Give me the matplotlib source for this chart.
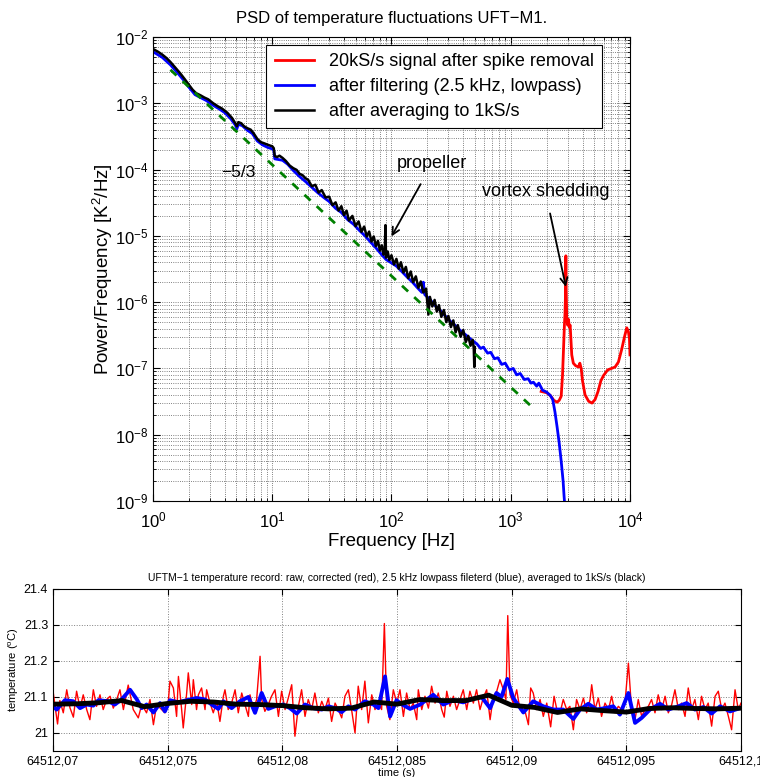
import matplotlib
matplotlib.use("Agg")
import matplotlib.pyplot as plt
from matplotlib.ticker import LogLocator, NullFormatter
import numpy as np

plt.rcParams['font.family'] = ['Liberation Sans', 'DejaVu Sans']
plt.rcParams['mathtext.default'] = 'regular'

# ---- PSD data ----
red_f = [1800, 2000, 2150, 2300, 2450, 2550, 2650, 2720, 2770, 2820, 2850, 2880, 2900,
         2920, 2950, 3000, 3050, 3100, 3150, 3250, 3350, 3500, 3700, 3800, 3900, 4000,
         4200, 4500, 4800, 5100, 5400, 5700, 6000, 6500, 7000, 7500, 8000, 8500, 9000,
         9400, 9700, 9900, 10000]
red_p = [4.5e-8, 4.3e-8, 3.9e-8, 3.3e-8, 3.1e-8, 3.3e-8, 3.8e-8, 8e-8, 1.9e-7, 4.5e-7,
         6.5e-7, 1.3e-6, 5.0e-6, 1.5e-6, 6e-7, 4.5e-7, 5.5e-7, 4.2e-7, 4.5e-7, 1.6e-7,
         1.2e-7, 1.1e-7, 1.05e-7, 1.2e-7, 1.0e-7, 6.5e-8, 4.0e-8, 3.2e-8, 3.0e-8, 3.4e-8,
         4.5e-8, 6.5e-8, 7.8e-8, 9.5e-8, 1.0e-7, 1.05e-7, 1.25e-7, 1.9e-7, 3.0e-7, 4.1e-7,
         3.6e-7, 2.8e-7, 1.6e-7]

blue_f = [1.0, 1.2, 1.4, 1.6, 1.8, 2.0, 2.25, 2.5, 2.8, 3.2, 3.6, 4.0, 4.5, 4.9, 5.05,
          5.2, 5.6, 6.2, 6.8, 7.5, 8.3, 9.2, 10.0, 10.3, 10.5, 11.2, 12.2, 13.5, 15, 17,
          19, 21, 24, 27, 30, 34, 38, 43, 48, 54, 60, 67, 74, 82, 90, 100, 110, 122, 135,
          150, 165, 180, 185, 190, 210, 230, 255, 280, 310, 345, 380, 420, 470, 520, 560,
          590, 640, 680, 730, 780, 840, 900, 970, 1050, 1120, 1200, 1300, 1400, 1480,
          1550, 1650, 1720, 1850, 2000, 2150, 2250, 2350, 2450, 2550, 2650, 2750, 2800,
          2850]
blue_p = [6.0e-3, 4.9e-3, 3.8e-3, 2.9e-3, 2.25e-3, 1.75e-3, 1.35e-3, 1.22e-3, 1.1e-3,
          9.3e-4, 8.2e-4, 7.2e-4, 5.8e-4, 4.7e-4, 4.1e-4, 4.8e-4, 4.6e-4, 3.9e-4, 3.5e-4,
          2.7e-4, 2.35e-4, 2.15e-4, 2.05e-4, 1.95e-4, 1.45e-4, 1.42e-4, 1.38e-4, 1.2e-4,
          9.7e-5, 7.8e-5, 6.6e-5, 5.6e-5, 4.5e-5, 3.8e-5, 3.3e-5, 2.6e-5, 2.25e-5,
          1.75e-5, 1.5e-5, 1.2e-5, 1.0e-5, 8.0e-6, 6.6e-6, 5.3e-6, 4.4e-6, 3.9e-6, 3.5e-6,
          2.9e-6, 2.4e-6, 2.0e-6, 1.65e-6, 1.4e-6, 2.0e-6, 1.3e-6, 1.1e-6, 9.0e-7, 7.6e-7,
          6.3e-7, 5.2e-7, 4.4e-7, 3.7e-7, 3.2e-7, 2.7e-7, 2.35e-7, 2.0e-7, 2.1e-7, 1.7e-7,
          1.75e-7, 1.4e-7, 1.45e-7, 1.15e-7, 1.2e-7, 9.5e-8, 1.0e-7, 8.0e-8, 8.4e-8,
          6.8e-8, 7.0e-8, 6.0e-8, 6.2e-8, 5.4e-8, 6.0e-8, 4.7e-8, 4.4e-8, 3.9e-8, 3.4e-8,
          2.2e-8, 1.3e-8, 7.5e-9, 4.0e-9, 2.0e-9, 1.2e-9, 8e-10]

black_f = [1.0, 1.1, 1.2, 1.3, 1.4, 1.55, 1.7, 1.85, 2.0, 2.15, 2.3, 2.5, 2.7, 2.9, 3.2,
           3.5, 3.8, 4.2, 4.6, 4.9, 5.05, 5.2, 5.5, 5.8, 6.2, 6.6, 7.0, 7.5, 8.0, 8.5, 9.0,
           9.6, 10.0, 10.3, 10.5, 11, 11.5, 12.2, 13, 14, 15, 16, 17, 18, 19, 20, 21.5,
           23, 24.5, 26, 28, 30, 32, 34, 36, 38, 40, 42, 44, 47, 50, 53, 56, 59, 62, 65,
           68, 71, 74, 77, 80, 83, 86, 88, 89, 90, 93, 96, 100, 105, 110, 115, 120, 126,
           132, 138, 145, 152, 160, 168, 176, 185, 195, 204, 210, 220, 230, 240, 250, 262,
           275, 288, 300, 315, 330, 345, 360, 380, 400, 420, 440, 460, 480, 490, 495, 500]
black_p = [6.6e-3, 6.0e-3, 5.4e-3, 4.8e-3, 4.2e-3, 3.4e-3, 2.8e-3, 2.3e-3, 1.9e-3,
           1.6e-3, 1.42e-3, 1.32e-3, 1.22e-3, 1.15e-3, 1.0e-3, 9.0e-4, 8.3e-4, 7.2e-4,
           6.0e-4, 5.0e-4, 4.5e-4, 5.2e-4, 5.0e-4, 4.5e-4, 4.2e-4, 4.0e-4, 3.5e-4, 2.9e-4,
           2.6e-4, 2.5e-4, 2.4e-4, 2.3e-4, 2.25e-4, 2.1e-4, 1.6e-4, 1.55e-4, 1.62e-4,
           1.5e-4, 1.35e-4, 1.15e-4, 1.05e-4, 9.9e-5, 8.6e-5, 8.2e-5, 7.4e-5, 7.0e-5,
           5.6e-5, 5.9e-5, 4.5e-5, 4.9e-5, 3.8e-5, 3.9e-5, 2.9e-5, 3.2e-5, 2.4e-5, 2.8e-5,
           2.05e-5, 2.4e-5, 1.7e-5, 2.0e-5, 1.4e-5, 1.65e-5, 1.15e-5, 1.38e-5, 9.8e-6,
           1.16e-5, 8.2e-6, 9.8e-6, 7.0e-6, 8.4e-6, 6.0e-6, 7.2e-6, 5.2e-6, 6.4e-6, 1.45e-5,
           4.7e-6, 5.8e-6, 4.3e-6, 5.1e-6, 3.7e-6, 4.5e-6, 3.2e-6, 4.0e-6, 2.8e-6, 3.4e-6,
           2.3e-6, 2.9e-6, 2.0e-6, 2.45e-6, 1.65e-6, 2.05e-6, 1.4e-6, 1.6e-6, 6.5e-7,
           1.2e-6, 8.6e-7, 1.08e-6, 7.2e-7, 9.0e-7, 6.0e-7, 7.6e-7, 5.0e-7, 6.2e-7, 4.2e-7,
           5.3e-7, 3.5e-7, 4.5e-7, 3.0e-7, 3.8e-7, 2.5e-7, 3.1e-7, 2.2e-7, 2.7e-7, 2.0e-7,
           1.05e-7, 2.1e-7]

slope_f = [1.4, 1450]
slope_p = [3.2e-3, 2.8e-8]

# ---- time record (ms after 64512.07 s) ----
t0 = 64512.07
red_t = [0.0, 0.1, 0.2, 0.3, 0.45, 0.6, 0.74, 0.89, 1.03, 1.18, 1.32, 1.47, 1.61, 1.76,
         1.9, 2.05, 2.19, 2.34, 2.49, 2.63, 2.78, 2.92, 3.07, 3.28, 3.5, 3.72, 3.87, 4.08,
         4.23, 4.38, 4.52, 4.74, 4.88, 5.03, 5.1, 5.25, 5.39, 5.47, 5.61, 5.68, 5.83, 5.9,
         6.05, 6.12, 6.26, 6.34, 6.48, 6.63, 6.7, 6.85, 6.99, 7.14, 7.28, 7.43,
         7.5, 7.64, 7.79, 7.94, 8.08, 8.23, 8.37, 8.52, 8.59, 8.74, 8.88, 9.03, 9.1, 9.24,
         9.39, 9.53, 9.68, 9.83, 9.97, 10.12, 10.26, 10.41, 10.55, 10.7, 10.84, 10.99,
         11.13, 11.28, 11.42, 11.57, 11.72, 11.86, 12.01, 12.15, 12.3, 12.44, 12.59, 12.73,
         12.88, 13.02, 13.17, 13.31, 13.46, 13.6, 13.75, 13.9, 14.04, 14.19, 14.33, 14.45,
         14.55, 14.69, 14.84, 14.99,
         15.13, 15.28, 15.42, 15.57, 15.71, 15.86, 15.93, 16.08, 16.22, 16.37, 16.51,
         16.66, 16.8, 16.95, 17.06, 17.17, 17.31, 17.46, 17.6, 17.75, 17.89, 18.04, 18.18,
         18.33, 18.47, 18.62, 18.76, 18.91, 19.06, 19.2, 19.35, 19.49, 19.64, 19.75, 19.83,
         19.93, 20.07, 20.22, 20.36, 20.53, 20.73, 20.83, 20.94, 21.09, 21.24, 21.38,
         21.53, 21.7, 21.85, 21.97, 22.11, 22.25, 22.4,
         22.54, 22.69, 22.83, 22.98, 23.13, 23.27, 23.42, 23.49, 23.63, 23.78, 23.92,
         24.07, 24.22, 24.36, 24.51, 24.65, 24.8, 24.94, 25.09, 25.23, 25.38, 25.52, 25.67,
         25.81, 25.96, 26.1, 26.25, 26.39, 26.54, 26.69, 26.83, 26.98, 27.12, 27.27, 27.41,
         27.56, 27.7, 27.85, 27.99, 28.14, 28.28, 28.43, 28.57, 28.72, 28.87, 29.01, 29.16,
         29.3, 29.45, 29.59, 29.74, 29.88, 30.0]
red_T = [21.118, 21.07, 21.025, 21.09, 21.056, 21.12, 21.07, 21.044, 21.116, 21.069,
         21.106, 21.065, 21.037, 21.12, 21.074, 21.106, 21.065, 21.093, 21.102, 21.069,
         21.093, 21.12, 21.065, 21.133, 21.065, 21.042, 21.079, 21.056, 21.093, 21.023,
         21.079, 21.065, 21.056, 21.088, 21.144, 21.125, 21.046, 21.157, 21.065, 21.014,
         21.111, 21.167, 21.079, 21.148, 21.065, 21.106, 21.125, 21.065, 21.12, 21.083,
         21.056, 21.088, 21.032, 21.102,
         21.12, 21.065, 21.083, 21.12, 21.056, 21.111, 21.079, 21.046, 21.106, 21.065,
         21.093, 21.213, 21.093, 21.06, 21.079, 21.102, 21.12, 21.046, 21.116, 21.065,
         21.097, 21.134, 20.991, 21.074, 21.12, 21.046, 21.093, 21.065, 21.111, 21.056,
         21.088, 21.065, 21.097, 21.032, 21.083, 21.065, 21.042, 21.102, 21.12, 21.065,
         21.0, 21.13, 21.065, 21.144, 21.028, 21.106, 21.065, 21.083, 21.065, 21.304,
         21.074, 21.037, 21.12, 21.083,
         21.12, 21.046, 21.111, 21.065, 21.083, 21.037, 21.12, 21.065, 21.102, 21.069,
         21.13, 21.083, 21.111, 21.065, 21.044, 21.116, 21.074, 21.102, 21.065, 21.093,
         21.12, 21.065, 21.116, 21.083, 21.12, 21.065, 21.097, 21.12, 21.037, 21.102,
         21.116, 21.148, 21.12, 21.093, 21.326, 21.106, 21.083, 21.12, 21.065, 21.074,
         21.023, 21.125, 21.111, 21.065, 21.093, 21.046, 21.083, 21.017, 21.102, 21.065,
         21.056, 21.093, 21.065,
         21.074, 21.009, 21.093, 21.065, 21.097, 21.056, 21.093, 21.134, 21.065, 21.097,
         21.046, 21.083, 21.065, 21.102, 21.056, 21.074, 21.065, 21.083, 21.194, 21.065,
         21.037, 21.093, 21.046, 21.065, 21.074, 21.093, 21.056, 21.106, 21.065, 21.102,
         21.056, 21.079, 21.12, 21.065, 21.083, 21.046, 21.125, 21.065, 21.093, 21.037,
         21.102, 21.065, 21.083, 21.019, 21.102, 21.116, 21.065, 21.083, 21.046, 21.009,
         21.12, 21.065, 21.083]

blue_t = [0.0, 0.16, 0.52, 0.89, 1.18, 1.47, 1.76, 1.98, 2.41, 2.70, 2.99, 3.36, 3.65,
          3.87, 4.08, 4.38, 4.67, 4.88, 5.10, 5.47, 5.83, 6.26, 6.63, 6.92, 7.21, 7.43,
          7.79, 8.15, 8.52, 8.81, 9.10, 9.39, 9.68, 10.04, 10.33, 10.63, 10.99, 11.35,
          11.72, 12.01, 12.30, 12.59, 12.88, 13.17, 13.60, 13.97, 14.19, 14.48, 14.70,
          14.98, 15.2, 15.57, 16.01, 16.58, 17.02, 17.45, 17.89, 18.25, 18.69, 19.06,
          19.34, 19.56, 19.81, 20.07, 20.51, 20.94, 21.38, 21.82, 22.25, 22.69, 22.98,
          23.34, 23.71, 24.07, 24.43, 24.72, 25.09, 25.38, 25.67, 26.03, 26.47, 26.83,
          27.27, 27.63, 27.99, 28.36, 28.72, 29.09, 29.52, 29.96]
blue_T = [21.074, 21.065, 21.091, 21.088, 21.069, 21.079, 21.076, 21.091, 21.088, 21.079,
          21.093, 21.120, 21.094, 21.069, 21.079, 21.057, 21.083, 21.060, 21.091, 21.085,
          21.091, 21.097, 21.093, 21.079, 21.067, 21.088, 21.069, 21.088, 21.100, 21.056,
          21.111, 21.067, 21.074, 21.079, 21.069, 21.054, 21.079, 21.069, 21.065, 21.074,
          21.069, 21.058, 21.074, 21.065, 21.088, 21.079, 21.069, 21.157, 21.046, 21.091,
          21.08, 21.067, 21.079, 21.106, 21.079, 21.091, 21.085, 21.094, 21.100, 21.069,
          21.111, 21.100, 21.150, 21.097, 21.057, 21.088, 21.074, 21.065, 21.065, 21.039,
          21.065, 21.081, 21.065, 21.069, 21.074, 21.051, 21.111, 21.028, 21.042, 21.065,
          21.081, 21.065, 21.074, 21.083, 21.065, 21.072, 21.054, 21.074, 21.060, 21.069]

black_t = [0, 1, 2, 3, 4, 5, 6, 7, 8, 9, 10, 11, 12, 13, 14, 15, 16, 17, 18, 19, 20, 21,
           22, 23, 24, 25, 26, 27, 28, 29, 30]
black_T = [21.080, 21.081, 21.084, 21.090, 21.073, 21.082, 21.088, 21.086, 21.080, 21.079,
           21.076, 21.070, 21.067, 21.069, 21.086, 21.080, 21.093, 21.090, 21.090, 21.105,
           21.077, 21.071, 21.057, 21.067, 21.062, 21.058, 21.068, 21.070, 21.068, 21.067,
           21.069]

time_ticks = ['64512,07', '64512,075', '64512,08', '64512,085', '64512,09', '64512,095',
              '64512,1']

fig = plt.figure(figsize=(7.6, 7.77), dpi=100)

# ---------- PSD panel ----------
ax = fig.add_axes([0.2013, 0.3552, 0.6276, 0.5972])
ax.plot(red_f, red_p, color='red', lw=2, label='20kS/s signal after spike removal')
ax.plot(blue_f, blue_p, color='blue', lw=2, label='after filtering (2.5 kHz, lowpass)')
ax.plot(black_f, black_p, color='black', lw=1.8, label='after averaging to 1kS/s')
ax.plot(slope_f, slope_p, color=(0, 0.5, 0), lw=2, ls=(0, (3, 3)))
ax.set_xscale('log')
ax.set_yscale('log')
ax.set_xlim(1, 1e4)
ax.set_ylim(1e-9, 1e-2)
for axis in (ax.xaxis, ax.yaxis):
    axis.set_major_locator(LogLocator(base=10, numticks=20))
    axis.set_minor_locator(LogLocator(base=10, subs=range(2, 10), numticks=20))
    axis.set_minor_formatter(NullFormatter())
ax.grid(True, which='both', ls=':', color='0.35', lw=0.6)
ax.tick_params(which='both', direction='in', top=True, right=True, labelsize=12)
ax.tick_params(which='major', length=5)
ax.tick_params(which='minor', length=2.5)
ax.tick_params(axis='x', pad=7)
ax.set_xlabel('Frequency [Hz]', fontsize=13.5, labelpad=2)
ax.set_ylabel('Power/Frequency [K$^2$/Hz]', fontsize=13.5, labelpad=0)
ax.set_title('PSD of temperature fluctuations UFT\u2212M1.', fontsize=12, pad=10)
leg = ax.legend(loc='upper right', bbox_to_anchor=(0.941, 0.983), borderaxespad=0,
                fontsize=13, fancybox=False, framealpha=1, edgecolor='black',
                handlelength=2.2, borderpad=0.45, labelspacing=0.45)
leg.get_frame().set_linewidth(0.8)

ax.text(5.2, 9.1e-5, '\u22125/3', fontsize=12.5, ha='center', va='center')
ax.annotate('propeller', xy=(100, 9.8e-6), xytext=(220, 1.25e-4), fontsize=13,
            ha='center', va='center',
            arrowprops=dict(arrowstyle='->', color='black', lw=1.3, shrinkA=8, shrinkB=0))
ax.annotate('vortex shedding', xy=(2900, 1.7e-6), xytext=(1950, 4.7e-5), fontsize=13,
            ha='center', va='center',
            arrowprops=dict(arrowstyle='->', color='black', lw=1.3, shrinkA=8, shrinkB=0))

# ---------- time record panel ----------
bx = fig.add_axes([0.0697, 0.0335, 0.9053, 0.2085])
bx.plot([t0 + v / 1000 for v in red_t], red_T, color='red', lw=1)
bx.plot([t0 + v / 1000 for v in blue_t], blue_T, color='blue', lw=2.8)
bx.plot([t0 + v / 1000 for v in black_t], black_T, color='black', lw=3.5)
bx.set_xlim(t0, t0 + 0.03)
bx.set_ylim(20.95, 21.4)
bx.set_xticks([t0 + 0.005 * i for i in range(len(time_ticks))])
bx.set_xticklabels(time_ticks)
bx.set_yticks([21.0, 21.1, 21.2, 21.3, 21.4])
bx.set_yticklabels(['21', '21.1', '21.2', '21.3', '21.4'])
bx.grid(True, ls=':', color='0.5', lw=0.7)
bx.tick_params(direction='in', top=True, right=True, labelsize=9, length=4)
bx.set_xlabel('time (s)', fontsize=8, labelpad=0)
bx.set_ylabel('temperature ($^o$C)', fontsize=8, labelpad=2)
bx.set_title('UFTM\u22121 temperature record: raw, corrected (red), 2.5 kHz lowpass '
             'fileterd (blue), averaged to 1kS/s (black)', fontsize=7.5, pad=6)

fig.savefig('out.png', dpi=100)
